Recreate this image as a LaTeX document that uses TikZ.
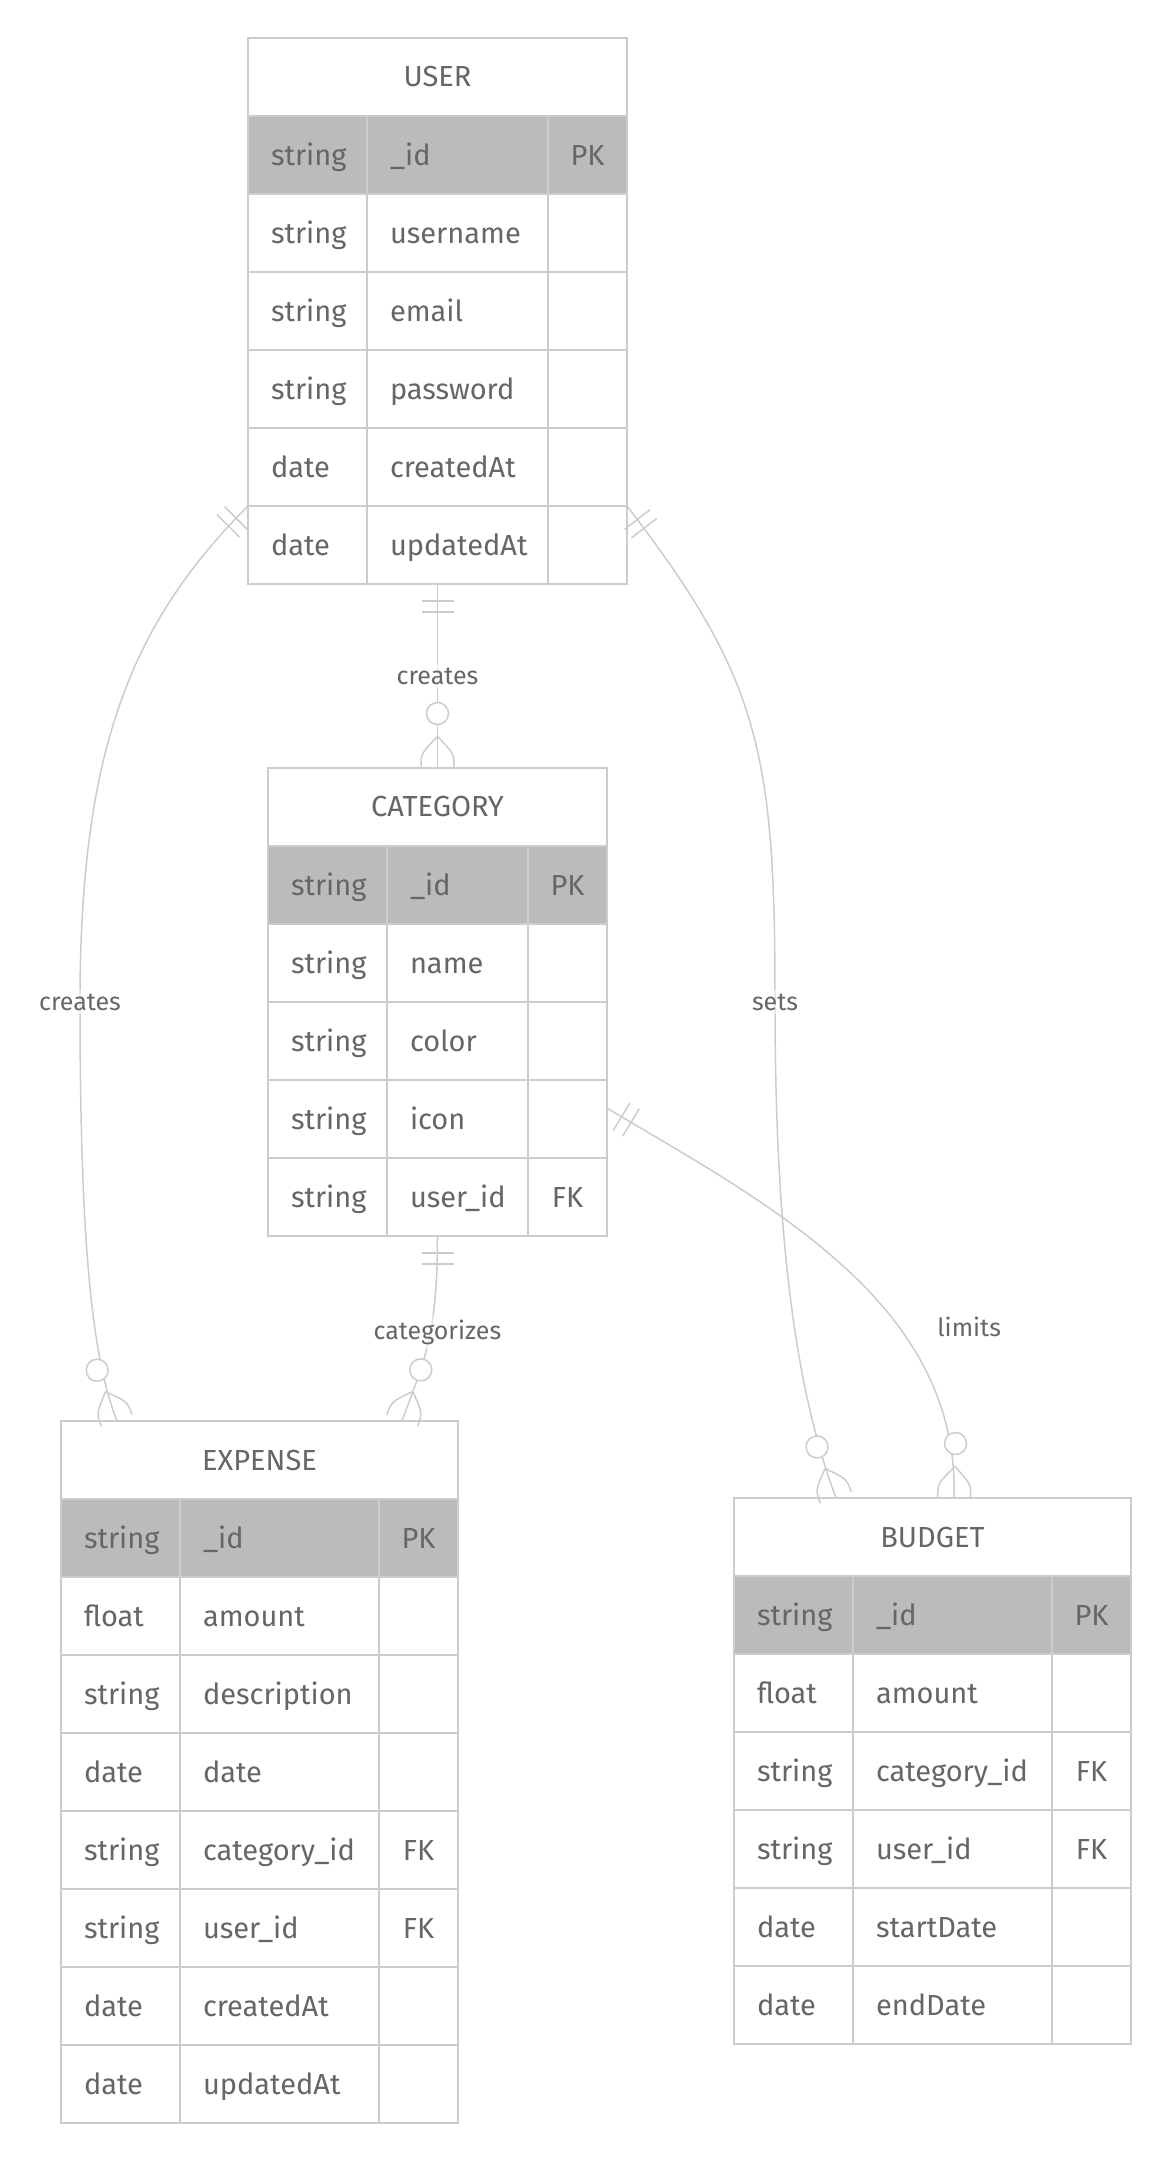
\documentclass[tikz,border=0pt]{standalone}
\usepackage{fontspec}
\setmainfont{Fira Sans}
\usetikzlibrary{matrix,positioning,decorations.markings}
\definecolor{linegray}{HTML}{CCCCCC}
\definecolor{keygray}{HTML}{BBBBBB}
\definecolor{txtgray}{HTML}{666666}
\begin{document}
\begin{tikzpicture}[x=1pt, y=-1pt,
  ent/.style={draw=linegray, line width=2, fill=white, text=txtgray,
    font=\fontsize{29}{35}\selectfont, minimum height=78, inner sep=0,
    outer sep=0, anchor=north west},
  tbl/.style={matrix of nodes, nodes in empty cells, inner sep=-1pt, outer sep=0,
    column sep=-2pt, row sep=-2pt, anchor=north west,
    nodes={draw=linegray, line width=2, fill=white, text=txtgray,
      font=\fontsize{29}{35}\selectfont, minimum height=78, inner ysep=0,
      outer sep=0, text height=24pt, text depth=4pt},
    row 1/.style={nodes={fill=keygray}},
    column 1/.style={nodes={inner xsep=23, text width=73pt, align=left}},
    column 2/.style={nodes={inner xsep=23, text width=#1, align=left}},
    column 3/.style={nodes={inner xsep=0, text width=79pt, align=center}}},
  lbl/.style={fill=white, fill opacity=.5, text opacity=1, text=txtgray,
    font=\fontsize{25}{30}\selectfont, inner sep=4},
  rel/.style={draw=linegray, line width=1.5, postaction={decorate},
    decoration={markings,
      mark=at position 0 with {\draw[linegray, line width=1.5]
        (17,-16) -- (17,16) (28,-16) -- (28,16);},
      mark=at position -0.5pt with {\draw[linegray, line width=1.5]
        (-31,0) .. controls (-14,16.5) .. (0,16.5)
        (-31,0) .. controls (-14,-16.5) .. (0,-16.5);
        \draw[linegray, line width=1.5, fill=white] (-54,0) circle (11);}}}
]
\useasboundingbox (0,0) rectangle (1156,2159);

% entities
\node[ent, minimum width=379] (user-h) at (248,38) {USER};
\matrix (user) [tbl=135pt] at (user-h.south west) {
  string & \_id      & PK \\
  string & username  &    \\
  string & email     &    \\
  string & password  &    \\
  date   & createdAt &    \\
  date   & updatedAt &    \\
};

\node[ent, minimum width=339] (category-h) at (268,768) {CATEGORY};
\matrix (category) [tbl=95pt] at (category-h.south west) {
  string & \_id     & PK \\
  string & name     &    \\
  string & color    &    \\
  string & icon     &    \\
  string & user\_id & FK \\
};

\node[ent, minimum width=397] (expense-h) at (61,1421) {EXPENSE};
\matrix (expense) [tbl=153pt] at (expense-h.south west) {
  string & \_id         & PK \\
  float  & amount       &    \\
  string & description  &    \\
  date   & date         &    \\
  string & category\_id & FK \\
  string & user\_id     & FK \\
  date   & createdAt    &    \\
  date   & updatedAt    &    \\
};

\node[ent, minimum width=397] (budget-h) at (734,1498) {BUDGET};
\matrix (budget) [tbl=153pt] at (budget-h.south west) {
  string & \_id         & PK \\
  float  & amount       &    \\
  string & category\_id & FK \\
  string & user\_id     & FK \\
  date   & startDate    &    \\
  date   & endDate      &    \\
};

% relations
\coordinate (creates-m) at (80,1002);
\coordinate (sets-m) at (775,1002);
\path[rel] (user.south) -- node[lbl] {creates} (category-h.north);
\path[rel] (user-6-1.north west) .. controls +(-118,118) and +(0,-250)
  .. (creates-m) node[lbl] {creates}
  .. controls +(0,250) and +(-24,-61) .. ([xshift=56]expense-h.north west);
\path[rel] (user-6-3.north east) .. controls +(133,173) and +(0,-250)
  .. (sets-m) node[lbl] {sets}
  .. controls +(0,248) and +(-38,-102) .. ([xshift=102]budget-h.north west);
\path[rel] (category.south) .. controls +(0,100) and +(22,-60)
  .. node[lbl, pos=.43, xshift=7] {categorizes} ([xshift=-56]expense-h.north east);
\path[rel] ([yshift=-28]category-4-3.north east) .. controls +(153,92) and +(6,-198)
  .. node[lbl, pos=.66, right=34pt] {limits} ([xshift=220]budget-h.north west);
\end{tikzpicture}
\end{document}
